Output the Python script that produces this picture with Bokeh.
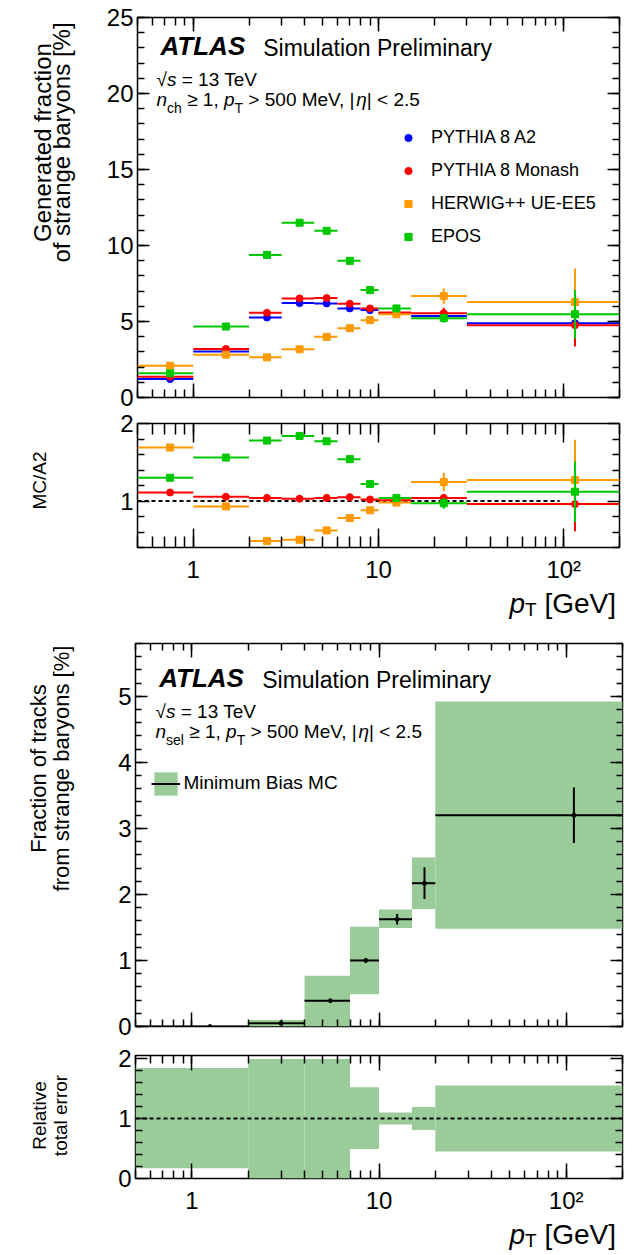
import math
from bokeh.plotting import figure
from bokeh.layouts import column, row
from bokeh.models import (ColumnDataSource, Range1d, LogAxis, LinearAxis, LogTicker, FixedTicker,
                          SingleIntervalTicker, Label, Legend, LegendItem, Span)
from bokeh.embed import file_html
from bokeh.resources import INLINE

FONT = "Liberation Sans"

# ---------------- data: upper plot (generated fraction) ----------------
gen_lo = [0.5, 1, 2, 3, 4.5, 6, 8, 10, 15, 30]
gen_hi = [1, 2, 3, 4.5, 6, 8, 10, 15, 30, 200]
gen_x = [0.75, 1.5, 2.5, 3.75, 5.25, 7, 9, 12.5, 22.5, 115]

a2 = [1.21, 3.02, 5.26, 6.21, 6.19, 5.86, 5.75, 5.55, 5.37, 4.89]
a2_err = [0.05, 0.05, 0.05, 0.05, 0.06, 0.07, 0.08, 0.10, 0.20, 1.00]
monash = [1.37, 3.19, 5.57, 6.52, 6.54, 6.17, 5.86, 5.59, 5.55, 4.76]
monash_err = [0.05, 0.05, 0.05, 0.05, 0.06, 0.07, 0.08, 0.10, 0.35, 1.40]
herwig = [2.09, 2.82, 2.64, 3.17, 3.99, 4.56, 5.09, 5.48, 6.67, 6.28]
herwig_err = [0.05, 0.05, 0.05, 0.05, 0.06, 0.07, 0.08, 0.10, 0.50, 2.20]
epos = [1.59, 4.67, 9.38, 11.50, 10.97, 8.99, 7.07, 5.86, 5.22, 5.48]
epos_err = [0.05, 0.05, 0.05, 0.05, 0.06, 0.07, 0.08, 0.10, 0.30, 1.60]

# ratios MC / A2
monash_ratio = [1.11, 1.055, 1.04, 1.03, 1.04, 1.05, 1.02, 1.01, 1.04, 0.96]
monash_ratio_err = [0.01, 0.01, 0.01, 0.01, 0.01, 0.01, 0.01, 0.02, 0.05, 0.35]
herwig_ratio = [1.69, 0.93, 0.485, 0.50, 0.62, 0.78, 0.88, 0.98, 1.245, 1.27]
herwig_ratio_err = [0.01, 0.01, 0.01, 0.01, 0.01, 0.01, 0.01, 0.02, 0.12, 0.52]
epos_ratio = [1.30, 1.56, 1.78, 1.84, 1.77, 1.54, 1.22, 1.04, 0.97, 1.12]
epos_ratio_err = [0.01, 0.01, 0.01, 0.01, 0.01, 0.01, 0.01, 0.02, 0.07, 0.39]
ratio_ref_x = [0.5, 95]
ratio_ref_y = [1, 1]

# ---------------- data: lower plot (fraction of tracks) ----------------
trk_lo = [0.5, 2, 4, 7, 10, 15, 20]
trk_hi = [2, 4, 7, 10, 15, 20, 200]
trk_x = [1.25, 3, 5.5, 8.5, 12.5, 17.5, 110]
trk_frac = [0.0, 0.05, 0.39, 1.00, 1.625, 2.17, 3.20]
trk_stat = [0.0, 0.01, 0.01, 0.03, 0.08, 0.24, 0.42]
trk_band_lo = [0.0, 0.0, 0.0, 0.49, 1.49, 1.78, 1.48]
trk_band_hi = [0.0, 0.10, 0.77, 1.51, 1.77, 2.56, 4.92]
rel_lo = [0.17, 0.0, 0.0, 0.49, 0.90, 0.81, 0.45]
rel_hi = [1.84, 1.99, 1.99, 1.52, 1.10, 1.19, 1.55]

C_A2 = "#0000ff"
C_MON = "#ff0000"
C_HER = "#ff9900"
C_EPOS = "#00c800"
C_BAND = "#99cc99"

# ---------------- text width helper (Arial / Liberation metrics) ----------------
_W = {' ': 278, ',': 278, '.': 278, '/': 278, '<': 584, '=': 584, '>': 584, '\u2265': 549,
      '[': 278, ']': 278, '%': 889, '|': 260, '\u221a': 549, '\u03b7': 556, '+': 584, '-': 333}
for ch in "0123456789":
    _W[ch] = 556
_W.update(dict(A=667, B=667, C=722, D=722, E=667, F=611, G=778, H=722, I=278, J=500, K=667, L=556,
               M=833, N=722, O=778, P=667, Q=778, R=722, S=667, T=611, U=722, V=667, W=944, X=667,
               Y=667, Z=611))
_W.update(dict(a=556, b=556, c=500, d=556, e=556, f=278, g=556, h=556, i=222, j=222, k=500, l=222,
               m=833, n=556, o=556, p=556, q=556, r=333, s=500, t=278, u=556, v=500, w=722, x=500,
               y=500, z=500))


def tw(s, size):
    return sum(_W.get(c, 556) for c in s) * size / 1000.0


BASE_FIX = 0.3465  # measured offset between the requested and the drawn baseline, per px of font


def rich(p, x, y, pieces):
    cx = x
    for text, size, style, dy in pieces:
        lead = len(text) - len(text.lstrip())
        stripped = text.strip()
        if stripped:
            p.add_layout(Label(x=cx + tw(text[:lead], size), y=y + dy + BASE_FIX * size,
                               x_units="screen", y_units="screen",
                               text=stripped, text_font=FONT, text_font_size=f"{size}px",
                               text_font_style=style, text_baseline="alphabetic", text_align="left",
                               text_color="black"))
        cx += tw(text, size)


def vlabel(p, x, y, text, size):
    p.add_layout(Label(x=x, y=y, x_units="screen", y_units="screen", text=text, angle=math.pi / 2,
                       text_font=FONT, text_font_size=f"{size}px", text_baseline="alphabetic",
                       text_align="center", text_color="black"))


def spacer(w, h):
    s = figure(width=w, height=h, x_range=Range1d(0, w), y_range=Range1d(0, h), title=None,
               output_backend="svg", toolbar_location=None,
               x_axis_location=None, y_axis_location=None,
               min_border_left=0, min_border_right=0, min_border_top=0, min_border_bottom=0)
    s.grid.visible = False
    s.outline_line_color = None
    s.background_fill_color = "white"
    s.border_fill_color = "white"
    return s


def hide_labels(ax):
    ax.major_label_text_font_size = "1px"
    ax.major_label_text_alpha = 0
    ax.major_label_standoff = 0


SPW = 90  # width of the strip that holds the rotated axis titles


def make_fig(height, frame_left, frame_width, b_top, b_bottom, yr, yticker,
             xmaj, xmin, ymaj, ymin, xlabels, xstandoff=12):
    bl = frame_left - SPW
    p = figure(width=bl + frame_width + 6, height=height, x_axis_type="log", x_range=Range1d(0.5, 200),
               y_range=Range1d(*yr), output_backend="svg", toolbar_location=None, title=None,
               min_border_left=bl, min_border_right=6,
               min_border_top=b_top, min_border_bottom=b_bottom)
    p.grid.visible = False
    p.outline_line_color = "black"
    p.outline_line_width = 1.5
    p.background_fill_color = "white"
    p.border_fill_color = "white"
    xt = LogTicker(mantissas=[1], desired_num_ticks=4, num_minor_ticks=10)
    p.xaxis.ticker = xt
    p.yaxis.ticker = yticker
    p.add_layout(LogAxis(ticker=xt), "above")
    p.add_layout(LinearAxis(ticker=yticker), "right")
    for side, axes in (("x", p.below + p.above), ("y", p.left + p.right)):
        for ax in axes:
            ax.axis_line_color = None
            ax.major_tick_out = 0
            ax.minor_tick_out = 0
            ax.major_tick_in = xmaj if side == "x" else ymaj
            ax.minor_tick_in = xmin if side == "x" else ymin
            ax.major_tick_line_width = 1.5
            ax.minor_tick_line_width = 1.5
            ax.major_tick_line_color = "black"
            ax.minor_tick_line_color = "black"
            ax.major_label_text_font = FONT
            ax.major_label_text_font_size = "24px"
            ax.major_label_text_color = "black"
    for ax in p.above + p.right:
        hide_labels(ax)
    for ax in p.left:
        ax.major_label_standoff = 4
    for ax in p.below:
        if xlabels:
            ax.major_label_overrides = {1: "1", 10: "10", 100: "10\u00b2"}
            ax.major_label_standoff = xstandoff
        else:
            hide_labels(ax)
    return p


def series(p, lo, hi, xc, y, err, color, marker, size):
    src = ColumnDataSource(dict(lo=lo, hi=hi, x=xc, y=y,
                                ylo=[a - b for a, b in zip(y, err)],
                                yhi=[a + b for a, b in zip(y, err)]))
    p.segment(x0="lo", x1="hi", y0="y", y1="y", source=src, line_color=color, line_width=2)
    p.segment(x0="x", x1="x", y0="ylo", y1="yhi", source=src, line_color=color, line_width=2)
    return p.scatter(x="x", y="y", source=src, marker=marker, size=size,
                     fill_color=color, line_color=color)


# ---------------- panel 1: generated fraction ----------------
H1 = 410
p1 = make_fig(H1, 137, 482, 17, 13, (0, 25), SingleIntervalTicker(interval=5, num_minor_ticks=5),
              14, 8, 12, 7, False)
r_a2 = series(p1, gen_lo, gen_hi, gen_x, a2, a2_err, C_A2, "circle", 7)
r_mon = series(p1, gen_lo, gen_hi, gen_x, monash, monash_err, C_MON, "circle", 7)
r_her = series(p1, gen_lo, gen_hi, gen_x, herwig, herwig_err, C_HER, "square", 7)
r_epo = series(p1, gen_lo, gen_hi, gen_x, epos, epos_err, C_EPOS, "square", 7)

leg1 = Legend(items=[LegendItem(label="PYTHIA 8 A2", renderers=[r_a2]),
                     LegendItem(label="PYTHIA 8 Monash", renderers=[r_mon]),
                     LegendItem(label="HERWIG++ UE-EE5", renderers=[r_her]),
                     LegendItem(label="EPOS", renderers=[r_epo])],
              location=(262, 144.5), glyph_width=18, glyph_height=33, spacing=0, padding=0, margin=0,
              label_standoff=14, label_text_font=FONT, label_text_font_size="18px",
              label_text_color="black", border_line_color=None, background_fill_alpha=0)
p1.add_layout(leg1)

rich(p1, 23, 342, [("ATLAS", 26, "bold italic", 0)])
rich(p1, 125.7, 342, [("Simulation Preliminary", 23, "normal", 0)])
rich(p1, 19, 311, [("\u221a", 19, "normal", 0), ("s", 19, "italic", 0), (" = 13 TeV", 19, "normal", 0)])
rich(p1, 19, 291, [("n", 19, "italic", 0), ("ch", 14, "normal", -6), (" \u2265 1, ", 19, "normal", 0),
                   ("p", 19, "italic", 0), ("T", 14, "normal", -6), (" > 500 MeV, |", 19, "normal", 0),
                   ("\u03b7", 19, "italic", 0), ("| < 2.5", 19, "normal", 0)])
# spacer frames line up with the neighbouring plot frame (17..397)
s1 = spacer(SPW, H1)
vlabel(s1, 42, 397 - 142, "Generated fraction", 24)
vlabel(s1, 61, 397 - 142, "of strange baryons [%]", 24)

# ---------------- panel 2: MC/A2 ratio ----------------
H2 = 175
p2 = make_fig(H2, 137, 482, 13, 36, (0.4, 2.0),
              FixedTicker(ticks=[1, 2], minor_ticks=[0.4, 0.6, 0.8, 1.2, 1.4, 1.6, 1.8]),
              19, 11, 12, 7, True, 8)
p2.line(x=ratio_ref_x, y=ratio_ref_y, line_color="black", line_width=2, line_dash="4 3")
series(p2, gen_lo, gen_hi, gen_x, monash_ratio, monash_ratio_err, C_MON, "circle", 7)
series(p2, gen_lo, gen_hi, gen_x, herwig_ratio, herwig_ratio_err, C_HER, "square", 7)
series(p2, gen_lo, gen_hi, gen_x, epos_ratio, epos_ratio_err, C_EPOS, "square", 7)
s2 = spacer(SPW, H2)
vlabel(s2, 39, 549 - 482, "MC/A2", 19)

X2H = 35
x2 = spacer(628, X2H)
rich(x2, 509, 7.5, [("p", 28, "italic", 0), ("T", 19, "normal", -3), (" [GeV]", 28, "normal", 0)])

# ---------------- panel 3: fraction of tracks ----------------
H3 = 420
p3 = make_fig(H3, 135, 487, 23, 14, (0, 5.8), SingleIntervalTicker(interval=1, num_minor_ticks=5),
              14, 7, 12, 6, False)
band_src = ColumnDataSource(dict(lo=trk_lo, hi=trk_hi, b=trk_band_lo, t=trk_band_hi))
r_band = p3.quad(left="lo", right="hi", bottom="b", top="t", source=band_src,
                 fill_color=C_BAND, line_color=None)
trk_src = ColumnDataSource(dict(lo=trk_lo, hi=trk_hi, x=trk_x, y=trk_frac,
                                ylo=[a - b for a, b in zip(trk_frac, trk_stat)],
                                yhi=[a + b for a, b in zip(trk_frac, trk_stat)]))
r_h = p3.segment(x0="lo", x1="hi", y0="y", y1="y", source=trk_src, line_color="black", line_width=2)
p3.segment(x0="x", x1="x", y0="ylo", y1="yhi", source=trk_src, line_color="black", line_width=2)
p3.scatter(x="x", y="y", source=trk_src, marker="circle", size=4, fill_color="black", line_color="black")

leg3 = Legend(items=[LegendItem(label="Minimum Bias MC", renderers=[r_band, r_h])],
              location=(15.5, 228.5), glyph_width=29, glyph_height=29, spacing=0, padding=0, margin=0,
              label_standoff=4, label_text_font=FONT, label_text_font_size="19px",
              label_text_color="black", border_line_color=None, background_fill_alpha=0)
p3.add_layout(leg3)

rich(p3, 23.7, 339, [("ATLAS", 26, "bold italic", 0)])
rich(p3, 126.7, 339, [("Simulation Preliminary", 23, "normal", 0)])
rich(p3, 20, 308, [("\u221a", 19, "normal", 0), ("s", 19, "italic", 0), (" = 13 TeV", 19, "normal", 0)])
rich(p3, 20, 288, [("n", 19, "italic", 0), ("sel", 14, "normal", -6), (" \u2265 1, ", 19, "normal", 0),
                   ("p", 19, "italic", 0), ("T", 14, "normal", -6), (" > 500 MeV, |", 19, "normal", 0),
                   ("\u03b7", 19, "italic", 0), ("| < 2.5", 19, "normal", 0)])
s3 = spacer(SPW, H3)
vlabel(s3, 38, 1026 - 768, "Fraction of tracks", 22)
vlabel(s3, 61, 1026 - 768, "from strange baryons [%]", 22)

# ---------------- panel 4: relative total error ----------------
H4 = 176
p4 = make_fig(H4, 135, 487, 15, 36, (0, 2.05),
              FixedTicker(ticks=[0, 1, 2], minor_ticks=[0.2, 0.4, 0.6, 0.8, 1.2, 1.4, 1.6, 1.8]),
              15, 8, 12, 7, True, 8)
rel_src = ColumnDataSource(dict(lo=trk_lo, hi=trk_hi, b=rel_lo, t=rel_hi))
p4.quad(left="lo", right="hi", bottom="b", top="t", source=rel_src, fill_color=C_BAND, line_color=None)
p4.add_layout(Span(location=1, dimension="width", line_color="black", line_width=2, line_dash="4 3"))
s4 = spacer(SPW, H4)
vlabel(s4, 39, 1180 - 1117, "Relative", 19)
vlabel(s4, 60, 1180 - 1117, "total error", 19)

X4H = 38
x4 = spacer(628, X4H)
rich(x4, 509, 10, [("p", 28, "italic", 0), ("T", 19, "normal", -3), (" [GeV]", 28, "normal", 0)])

layout = column(row(s1, p1, spacing=0), row(s2, p2, spacing=0), x2,
                row(s3, p3, spacing=0), row(s4, p4, spacing=0), x4, spacing=0)
open("out.html", "w").write(file_html(layout, INLINE))
